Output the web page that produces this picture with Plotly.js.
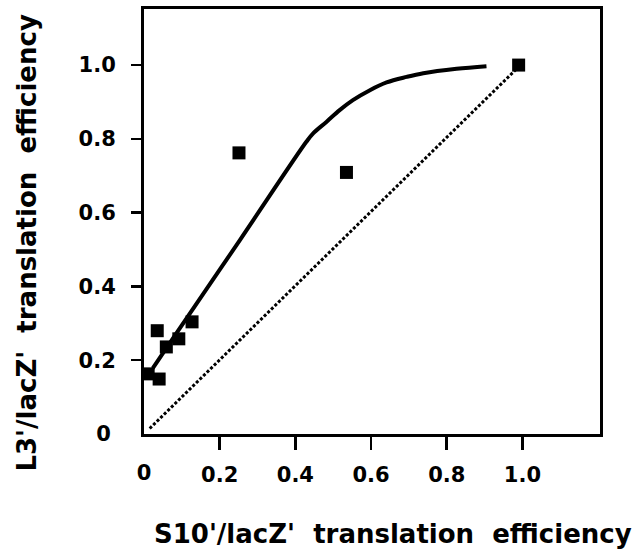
<!DOCTYPE html>
<html>
<head>
<meta charset="utf-8">
<script src="https://cdn.plot.ly/plotly-3.0.1.min.js"></script>
<style>html,body{margin:0;padding:0;background:#fff;}</style>
</head>
<body>
<div id="chart" style="width:636px;height:552px;"></div>
<script>
// Measured points
const pointX = [0.011, 0.040, 0.035, 0.059, 0.092, 0.127, 0.251, 0.535, 0.990];
const pointY = [0.163, 0.149, 0.280, 0.236, 0.258, 0.304, 0.762, 0.709, 1.000];
// Fitted curve (solid)
const curveX = [0.023, 0.089, 0.253, 0.429, 0.447, 0.482, 0.517, 0.552, 0.597, 0.641, 0.694, 0.738, 0.826, 0.905];
const curveY = [0.178, 0.278, 0.525, 0.792, 0.815, 0.846, 0.878, 0.905, 0.932, 0.953, 0.968, 0.978, 0.990, 0.997];
// Identity reference line (dotted)
const diagX = [0.015, 0.985];
const diagY = [0.015, 0.990];
// Tick labels
const xTickVals = [0.2, 0.4, 0.6, 0.8, 1.0];
const xTickText = ['0.2', '0.4', '0.6', '0.8', '1.0'];
const yTickVals = [0.2, 0.4, 0.6, 0.8, 1.0];
const yTickText = ['0.2', '0.4', '0.6', '0.8', '1.0'];
const zeroLabel = ['0'];
const xTitle = "S10'/lacZ'&nbsp;&nbsp;translation&nbsp;&nbsp;efficiency";
const yTitle = "L3'/lacZ'&nbsp;&nbsp;translation&nbsp;&nbsp;efficiency";

const FONT = 'DejaVu Sans, Arial, sans-serif';

const traces = [
  {x: diagX, y: diagY, mode: 'lines', type: 'scatter',
   line: {color: '#000', width: 3, dash: '3px,2px'}, hoverinfo: 'skip'},
  {x: curveX, y: curveY, mode: 'lines', type: 'scatter',
   line: {color: '#000', width: 4, shape: 'spline', smoothing: 1.0}},
  {x: pointX, y: pointY, mode: 'markers', type: 'scatter',
   marker: {symbol: 'square', size: 13, color: '#000'}},
  // invisible helper trace to carry the "0" tick labels on overlay axes
  {x: [0], y: [0], xaxis: 'x2', yaxis: 'y2', mode: 'markers', type: 'scatter',
   marker: {opacity: 0}, hoverinfo: 'skip'}
];

const baseAxis = {
  showgrid: false, zeroline: false, showline: true, linecolor: '#000', linewidth: 3,
  mirror: true, ticks: 'outside', tickcolor: '#000', tickwidth: 2.5
};

const layout = {
  width: 636, height: 552,
  margin: {l: 144, r: 36, t: 9, b: 118},
  paper_bgcolor: '#fff', plot_bgcolor: '#fff',
  showlegend: false,
  xaxis: Object.assign({}, baseAxis, {
    range: [0, 1.205], tickvals: xTickVals, ticktext: xTickText, ticklen: 13,
    ticklabelstandoff: 7,
    tickfont: {family: FONT, size: 21, color: '#000', weight: 'bold'}
  }),
  yaxis: Object.assign({}, baseAxis, {
    range: [0, 1.152], tickvals: yTickVals, ticktext: yTickText, ticklen: 10,
    ticklabelstandoff: 11,
    tickfont: {family: FONT, size: 21, color: '#000', weight: 'bold'}
  }),
  xaxis2: {
    overlaying: 'x', matches: 'x', range: [0, 1.205], side: 'bottom', anchor: 'y2',
    showgrid: false, zeroline: false, showline: false,
    tickvals: [0], ticktext: zeroLabel, ticks: 'outside', ticklen: 13, tickcolor: 'rgba(0,0,0,0)',
    ticklabelstandoff: 7,
    tickfont: {family: FONT, size: 21, color: '#000', weight: 'bold'}
  },
  yaxis2: {
    overlaying: 'y', matches: 'y', range: [0, 1.152], side: 'left', anchor: 'x2',
    showgrid: false, zeroline: false, showline: false,
    tickvals: [0], ticktext: zeroLabel, ticks: 'outside', ticklen: 10, tickcolor: 'rgba(0,0,0,0)',
    ticklabelstandoff: 18,
    tickfont: {family: FONT, size: 21, color: '#000', weight: 'bold'}
  },
  annotations: [
    {text: xTitle, xref: 'paper', yref: 'paper', x: 0.546, y: -0.236,
     xanchor: 'center', yanchor: 'middle', showarrow: false,
     font: {family: FONT, size: 26, color: '#000', weight: 'bold'}},
    {text: yTitle, xref: 'paper', yref: 'paper', x: -0.257, y: 0.45,
     xanchor: 'center', yanchor: 'middle', showarrow: false, textangle: -90,
     font: {family: FONT, size: 26, color: '#000', weight: 'bold'}}
  ]
};

Plotly.newPlot('chart', traces, layout, {staticPlot: true, displayModeBar: false});
</script>
</body>
</html>
